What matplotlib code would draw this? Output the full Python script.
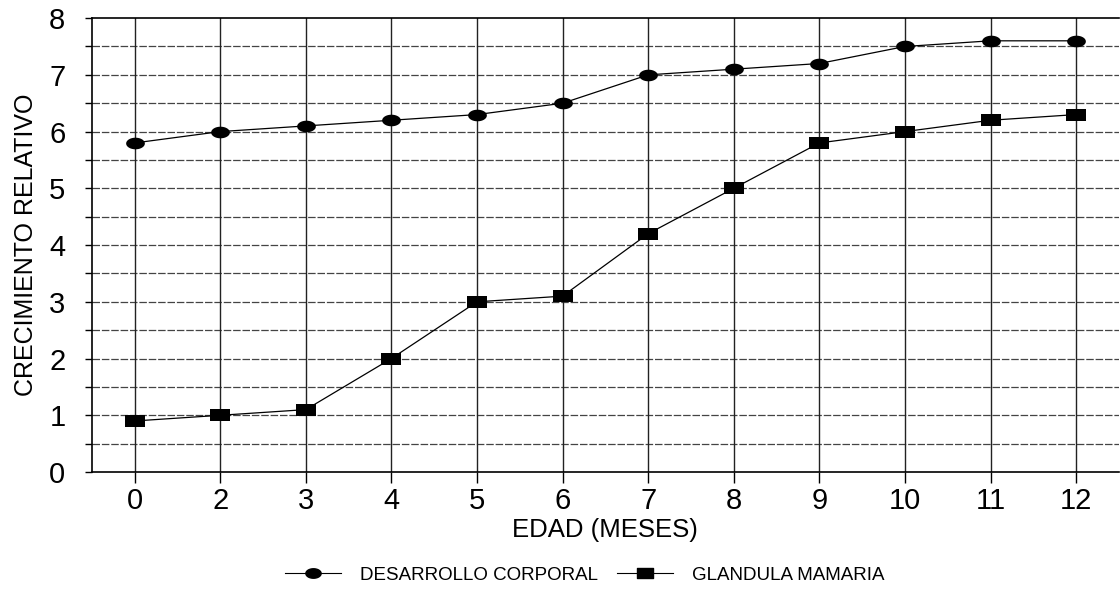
import numpy as np
import matplotlib.pyplot as plt
from matplotlib.lines import Line2D
from matplotlib.path import Path

plt.rcParams['font.family'] = ['Liberation Sans', 'DejaVu Sans']

# edad en meses (categorias del eje x)
meses = ['0', '2', '3', '4', '5', '6', '7', '8', '9', '10', '11', '12']
desarrollo_corporal = [5.8, 6.0, 6.1, 6.2, 6.3, 6.5, 7.0, 7.1, 7.2, 7.5, 7.6, 7.6]
glandula_mamaria = [0.9, 1.0, 1.1, 2.0, 3.0, 3.1, 4.2, 5.0, 5.8, 6.0, 6.2, 6.3]

# marcadores elipticos / rectangulares mas anchos que altos
t = np.linspace(0, 2 * np.pi, 40)
ellipse = Path(np.column_stack([np.cos(t), np.sin(t) * 0.62]), closed=True)
rect = Path([(-1, -0.62), (1, -0.62), (1, 0.62), (-1, 0.62), (-1, -0.62)], closed=True)

fig = plt.figure(figsize=(11.2, 6.04), dpi=100)
ax = fig.add_axes([0.082, 0.2185, 0.917, 0.7515])

x = np.arange(len(meses))

# rejilla: horizontales cada 0.5, verticales en cada categoria
for yv in np.arange(0.5, 8.0, 0.5):
    ax.axhline(yv, color='#444444', lw=0.9, ls=(0, (6, 1.5)), zorder=1)
for xv in x:
    ax.axvline(xv, color='#222222', lw=1.0, zorder=1)

ax.plot(x, desarrollo_corporal, color='black', lw=0.9, marker=ellipse,
        markersize=13.5, markeredgewidth=0, zorder=3)
ax.plot(x, glandula_mamaria, color='black', lw=0.9, marker=rect,
        markersize=14.5, markeredgewidth=0, zorder=3)

ax.set_xlim(-0.5, len(meses) - 0.5)
ax.set_ylim(0, 8)
ax.set_xticks(x)
ax.set_xticklabels(meses)
ax.set_yticks(np.arange(0, 9, 1))
ax.set_yticks(np.arange(0, 8.5, 0.5), minor=True)
ax.tick_params(axis='both', labelsize=21, color='black', direction='out')
ax.tick_params(axis='x', length=8, width=1, pad=3)
ax.tick_params(axis='y', which='both', length=5, width=1, pad=14)

for side in ['left', 'top', 'bottom']:
    ax.spines[side].set_linewidth(1.2)
ax.spines['right'].set_visible(False)

ax.set_xlabel('EDAD (MESES)', fontsize=18.5, labelpad=2)
ax.set_ylabel('CRECIMIENTO RELATIVO', fontsize=18, labelpad=8)

handles = [
    Line2D([], [], color='black', lw=0.8, marker=ellipse, markersize=11),
    Line2D([], [], color='black', lw=0.8, marker=rect, markersize=12),
]
fig.legend(handles, ['DESARROLLO CORPORAL', 'GLANDULA MAMARIA'],
           loc='center', bbox_to_anchor=(0.522, 0.048), ncol=2, frameon=False,
           fontsize=13.5, handlelength=3.0, columnspacing=1.0, handletextpad=1.0)

fig.savefig('out.png', dpi=100)
